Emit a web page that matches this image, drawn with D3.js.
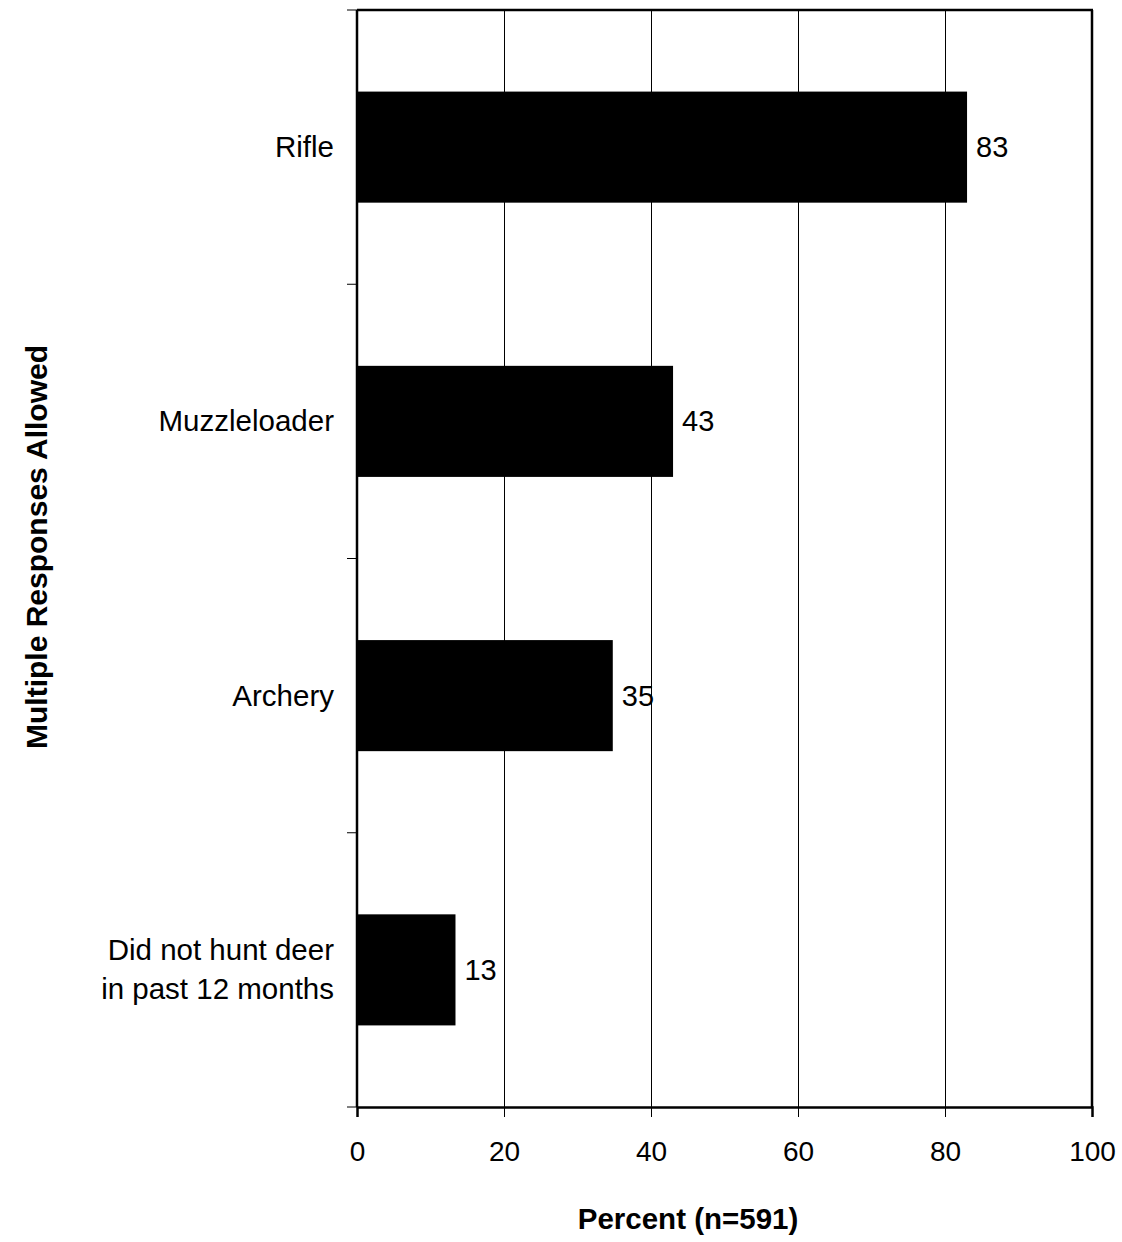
<!DOCTYPE html>
<html><head><meta charset="utf-8">
<script src="https://cdn.jsdelivr.net/npm/d3@7"></script>
<style>body{margin:0;background:#fff;} text{font-family:"Liberation Sans",Arial,sans-serif;fill:#000;}</style>
</head><body>
<svg id="chart" width="1122" height="1242"></svg>
<script>
const categories = [["Rifle"], ["Muzzleloader"], ["Archery"], ["Did not hunt deer", "in past 12 months"]];
const values = [83, 43, 34.8, 13.4];
const valueLabels = ["83", "43", "35", "13"];
const xTicks = [0, 20, 40, 60, 80, 100];
const xTitle = "Percent (n=591)";
const yTitle = "Multiple Responses Allowed";

const svg = d3.select("#chart");
const L = 357, R = 1092, T = 10, B = 1107;
const x = d3.scaleLinear().domain([0, 100]).range([L, R]);
const y = d3.scaleBand().domain(d3.range(categories.length)).range([T, B]).padding(0);
const barFrac = 0.405;

// gridlines
svg.append("g").selectAll("line").data(xTicks.filter(d => d > 0 && d < 100)).join("line")
  .attr("x1", d => Math.round(x(d)) + 0.5).attr("x2", d => Math.round(x(d)) + 0.5).attr("y1", T).attr("y2", B)
  .attr("stroke", "#000").attr("stroke-width", 1).attr("shape-rendering", "crispEdges");

// bars
const bh = y.bandwidth() * barFrac;
svg.append("g").selectAll("rect").data(values).join("rect")
  .attr("x", x(0)).attr("y", (d, i) => y(i) + (y.bandwidth() - bh) / 2)
  .attr("width", d => x(d) - x(0)).attr("height", bh).attr("fill", "#000");

// value labels
svg.append("g").selectAll("text").data(values).join("text")
  .attr("x", d => x(d) + 9).attr("y", (d, i) => y(i) + y.bandwidth() / 2 + 10)
  .attr("font-size", 29).text((d, i) => valueLabels[i]);

// frame: top and right borders
svg.append("line").attr("x1", L).attr("x2", R + 1).attr("y1", T).attr("y2", T).attr("stroke", "#000").attr("stroke-width", 2.5);
svg.append("line").attr("x1", R).attr("x2", R).attr("y1", T).attr("y2", B).attr("stroke", "#000").attr("stroke-width", 2.5);

// x axis
const xAxis = d3.axisBottom(x).tickValues(xTicks).tickSize(10).tickPadding(24).tickFormat(d3.format("d"));
const gx = svg.append("g").attr("transform", `translate(0,${B})`).call(xAxis);
gx.select(".domain").attr("stroke", "#000").attr("stroke-width", 2.5);
gx.selectAll(".tick line").attr("stroke", "#000").attr("stroke-width", 1);
gx.selectAll(".tick text").attr("font-size", 28).attr("font-family", "Liberation Sans, Arial, sans-serif").attr("fill", "#000");

// y axis ticks at band boundaries
const yTickPos = d3.range(categories.length + 1).map(i => T + i * y.step());
svg.append("g").selectAll("line").data(yTickPos).join("line")
  .attr("x1", L - 10).attr("x2", L).attr("y1", d => d).attr("y2", d => d)
  .attr("stroke", "#000").attr("stroke-width", 1);
svg.append("line").attr("x1", L).attr("x2", L).attr("y1", T).attr("y2", B).attr("stroke", "#000").attr("stroke-width", 2.5);

// category labels
const lineH = 39;
const cat = svg.append("g").selectAll("text").data(categories).join("text")
  .attr("text-anchor", "end").attr("font-size", 29.5)
  .attr("y", (d, i) => y(i) + y.bandwidth() / 2 + 10 - (d.length - 1) * lineH / 2);
cat.selectAll("tspan").data(d => d).join("tspan")
  .attr("x", 334).attr("dy", (d, j) => j === 0 ? 0 : lineH).text(d => d);

// axis titles
svg.append("text").attr("x", 688).attr("y", 1229).attr("text-anchor", "middle")
  .attr("font-size", 29.5).attr("font-weight", "bold").text(xTitle);
svg.append("text").attr("transform", "translate(47,547) rotate(-90)").attr("text-anchor", "middle")
  .attr("font-size", 30).attr("font-weight", "bold").text(yTitle);
</script>
</body></html>
